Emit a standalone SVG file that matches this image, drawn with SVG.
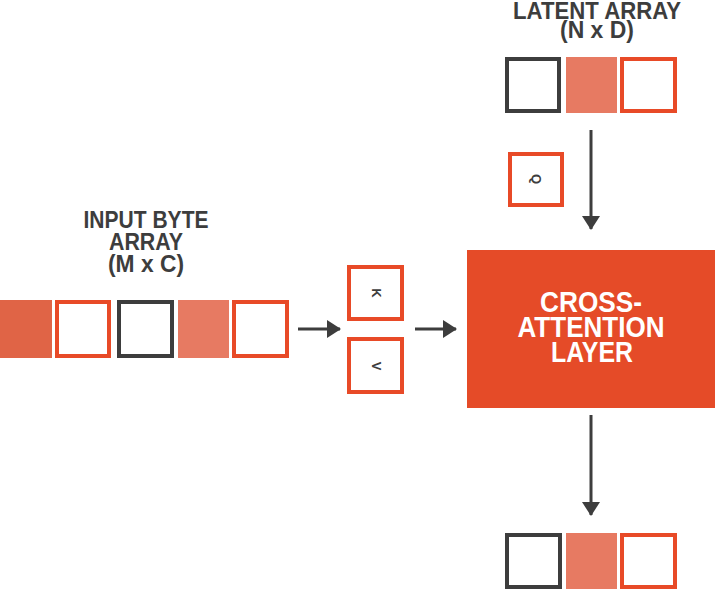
<svg xmlns="http://www.w3.org/2000/svg" width="716" height="590" viewBox="0 0 716 590">
<defs>
<style>
.dk{fill:#fff;stroke:#3d3d3d;stroke-width:4}
.or{fill:#fff;stroke:#e84a27;stroke-width:4}
.lt{fill:#e77a62}
.md{fill:#e06446}
.ttl{font-family:"Liberation Sans",Arial,sans-serif;font-weight:bold;font-size:23px;fill:#3d3d3d;text-anchor:middle}
.big{font-family:"Liberation Sans",Arial,sans-serif;font-weight:bold;font-size:29px;fill:#fff;text-anchor:middle}
.sm{font-family:"Liberation Sans",Arial,sans-serif;font-weight:bold;font-size:13px;fill:#3d3d3d;text-anchor:middle}
.ln{stroke:#3d3d3d;stroke-width:3;fill:none}
</style>
<marker id="ah" markerWidth="14" markerHeight="18" refX="13" refY="9" orient="auto" markerUnits="userSpaceOnUse" viewBox="0 0 14 18">
<path d="M0,0 L14,9 L0,18 Z" fill="#3d3d3d"/>
</marker>
</defs>
<g id="latent-array">
<text class="ttl" x="597" y="19" textLength="168" lengthAdjust="spacingAndGlyphs">LATENT ARRAY</text>
<text class="ttl" x="597" y="38" textLength="74" lengthAdjust="spacingAndGlyphs">(N x D)</text>
<rect class="dk" x="507" y="59" width="52" height="52"/>
<rect class="lt" x="566" y="57" width="51" height="56"/>
<rect class="or" x="622" y="59" width="53" height="52"/>
</g>
<g id="input-byte-array">
<text class="ttl" x="146" y="228" textLength="125" lengthAdjust="spacingAndGlyphs">INPUT BYTE</text>
<text class="ttl" x="146" y="250" textLength="74" lengthAdjust="spacingAndGlyphs">ARRAY</text>
<text class="ttl" x="146" y="272" textLength="76" lengthAdjust="spacingAndGlyphs">(M x C)</text>
<rect class="md" x="0" y="300" width="52" height="58"/>
<rect class="or" x="57" y="302" width="52" height="54"/>
<rect class="dk" x="119" y="302" width="53" height="54"/>
<rect class="lt" x="178" y="300" width="51" height="58"/>
<rect class="or" x="234" y="302" width="53" height="54"/>
</g>
<g id="k">
<rect class="or" x="349" y="267" width="53" height="52"/>
<text class="sm" transform="translate(377,293) rotate(90)" y="5">K</text>
</g>
<g id="v">
<rect class="or" x="349" y="339" width="53" height="53"/>
<text class="sm" transform="translate(377,366) rotate(90)" y="5">V</text>
</g>
<g id="q">
<rect class="or" x="510" y="154" width="52" height="51"/>
<text class="sm" transform="translate(537,179) rotate(90)" y="5">Q</text>
</g>
<g id="cross-attention">
<rect x="467" y="250" width="248" height="158" fill="#e54b28"/>
<text class="big" x="591" y="312" textLength="102" lengthAdjust="spacingAndGlyphs">CROSS-</text>
<text class="big" x="591" y="337" textLength="147" lengthAdjust="spacingAndGlyphs">ATTENTION</text>
<text class="big" x="592" y="362" textLength="82" lengthAdjust="spacingAndGlyphs">LAYER</text>
</g>
<g id="output-array">
<rect class="dk" x="507" y="535" width="53" height="52"/>
<rect class="lt" x="566" y="533" width="51" height="56"/>
<rect class="or" x="622" y="535" width="53" height="52"/>
</g>
<g id="connectors">
<line class="ln" x1="298" y1="329" x2="340" y2="329" marker-end="url(#ah)"/>
<line class="ln" x1="415" y1="329" x2="456" y2="329" marker-end="url(#ah)"/>
<line class="ln" x1="591" y1="130" x2="591" y2="229" marker-end="url(#ah)"/>
<line class="ln" x1="591" y1="415" x2="591" y2="515" marker-end="url(#ah)"/>
</g>
</svg>
